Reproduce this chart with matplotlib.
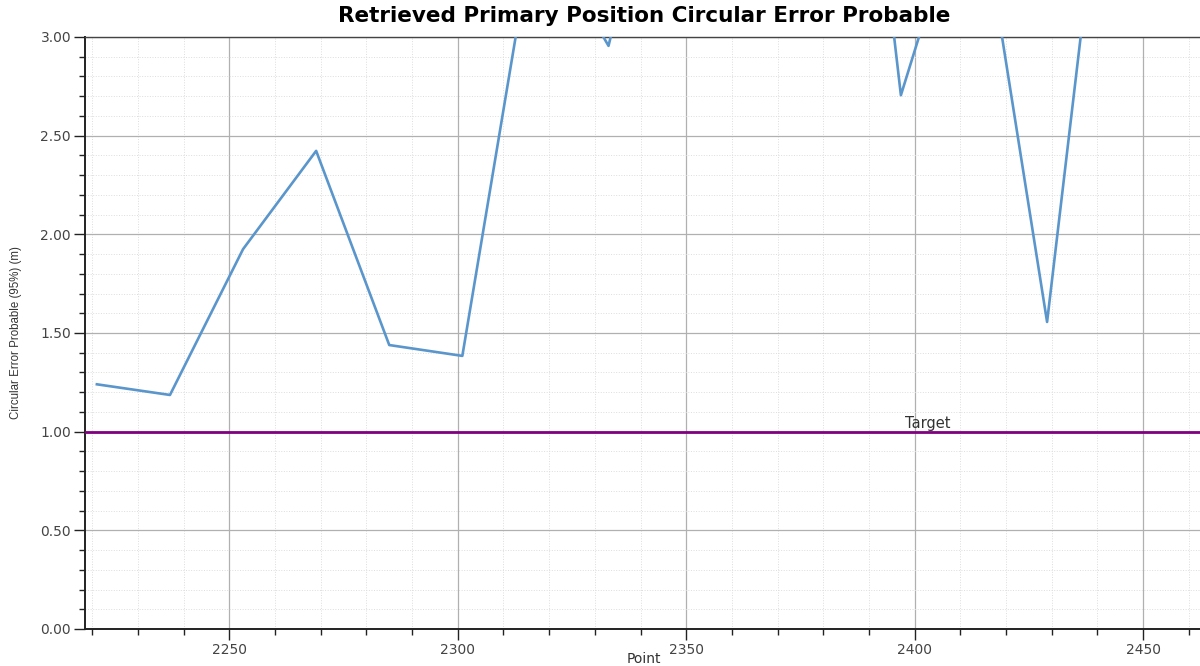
import matplotlib.pyplot as plt
from matplotlib.ticker import MultipleLocator, FormatStrFormatter

# Data (points beyond 3.0 are clipped by the axis)
points = [2221, 2237, 2253, 2269, 2285, 2301, 2317, 2333, 2349, 2365,
          2381, 2397, 2413, 2429, 2445, 2461]
cep_values = [1.24, 1.186, 1.925, 2.423, 1.439, 1.384, 3.6, 2.955, 4.5, 5.0,
              5.9, 2.705, 3.9, 1.556, 4.7, 4.3]
target_value = 1.0
target_label = 'Target'

fig = plt.figure(figsize=(12, 6.66), dpi=100)
ax = fig.add_axes([85 / 1200, 1 - 629 / 666, 1 - 85 / 1200 + 0.002, (629 - 37) / 666])

ax.plot(points, cep_values, color='#5a96cb', linewidth=1.9, zorder=3)
ax.axhline(target_value, color='#800080', linewidth=2.0, zorder=4)
ax.text(2398, target_value + 0.003, target_label, fontsize=10.5, color='#333333',
        ha='left', va='bottom', zorder=5)

ax.set_xlim(2218.4, 2463)
ax.set_ylim(0, 3.0)

# ticks and grid
ax.xaxis.set_major_locator(MultipleLocator(50))
ax.xaxis.set_minor_locator(MultipleLocator(10))
ax.yaxis.set_major_locator(MultipleLocator(0.5))
ax.yaxis.set_minor_locator(MultipleLocator(0.1))
ax.yaxis.set_major_formatter(FormatStrFormatter('%.2f'))
ax.grid(which='major', color='#b0b0b0', linewidth=0.9, linestyle='-')
ax.grid(which='minor', color='#dddddd', linewidth=0.7, linestyle=':')
ax.set_axisbelow(True)
ax.tick_params(which='major', length=8, width=1, color='#222222', pad=2,
               labelsize=10, labelcolor='#444444')
ax.tick_params(which='minor', length=4, width=1, color='#222222')

for side in ['left', 'bottom']:
    ax.spines[side].set_color('#222222')
    ax.spines[side].set_linewidth(1.4)
ax.spines['top'].set_color('#444444')
ax.spines['top'].set_linewidth(1.0)
ax.spines['right'].set_visible(False)

ax.set_xlabel('Point', fontsize=10, color='#333333', labelpad=-3.5)
ax.set_ylabel('Circular Error Probable (95%) (m)', fontsize=8.3,
              family=['Liberation Sans', 'DejaVu Sans'], color='#333333', labelpad=13)
ax.set_title('Retrieved Primary Position Circular Error Probable', fontsize=15.5,
             fontweight='bold', pad=11)

fig.savefig('out.png', dpi=100)
